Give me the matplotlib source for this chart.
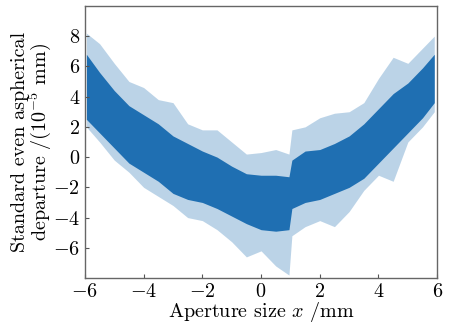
import numpy as np
import matplotlib
matplotlib.use("Agg")
import matplotlib.pyplot as plt

# Envelope of the noisy departure signal (units 1e-5 mm)
x_pos      = [-5.95, -5.5, -5.0, -4.5, -4.0, -3.5, -3.0, -2.5, -2.0, -1.5, -1.0, -0.5, 0.0, 0.5, 0.95,
              1.05, 1.5, 2.0, 2.5, 3.0, 3.5, 4.0, 4.5, 5.0, 5.5, 5.9]
core_top   = [6.8, 5.6, 4.4, 3.4, 2.8, 2.2, 1.4, 0.9, 0.4, 0.0, -0.6, -1.1, -1.2, -1.2, -1.3,
              -0.2, 0.4, 0.5, 0.9, 1.4, 2.2, 3.2, 4.2, 4.9, 5.9, 6.8]
core_bot   = [2.5, 1.6, 0.6, -0.4, -1.0, -1.6, -2.4, -2.8, -3.0, -3.4, -3.9, -4.4, -4.8, -4.9, -4.8,
              -3.4, -3.0, -2.8, -2.4, -2.0, -1.4, -0.4, 0.6, 1.6, 2.6, 3.6]
spike_top  = [8.2, 7.5, 6.2, 5.0, 4.6, 3.8, 3.6, 2.2, 1.8, 1.8, 1.0, 0.2, 0.3, 0.5, 0.2,
              1.8, 2.0, 2.6, 2.9, 3.0, 3.6, 5.2, 6.6, 6.2, 7.2, 8.0]
spike_bot  = [2.0, 1.0, -0.2, -1.0, -2.0, -2.6, -3.2, -4.0, -4.2, -4.8, -5.6, -6.6, -6.2, -7.2, -7.8,
              -5.2, -4.6, -4.2, -4.6, -3.6, -2.2, -1.2, -1.6, 1.0, 2.0, 3.0]

x_ticks = [-6, -4, -2, 0, 2, 4, 6]
y_ticks = [-6, -4, -2, 0, 2, 4, 6, 8]

plt.rcParams['font.family'] = 'serif'
plt.rcParams['font.serif'] = ['cmr10']
plt.rcParams['mathtext.fontset'] = 'cm'
plt.rcParams['axes.formatter.use_mathtext'] = True

fig = plt.figure(figsize=(4.54, 3.26), dpi=100)
ax = fig.add_axes([0.187, 0.147, 0.776, 0.835])

c = '#1f6fb2'
ax.fill_between(x_pos, spike_bot, spike_top, color=c, alpha=0.3, lw=0)
ax.fill_between(x_pos, core_bot, core_top, color=c, alpha=1.0, lw=0)

ax.set_xlim(-6, 6)
ax.set_ylim(-8, 10)
ax.set_xticks(x_ticks)
ax.set_yticks(y_ticks)
ax.set_xticklabels([f'${v}$' for v in x_ticks])
ax.set_yticklabels([f'${v}$' for v in y_ticks])
ax.tick_params(direction='in', length=3, labelsize=14.5, color='#555555', top=False, right=False)
for s in ax.spines.values():
    s.set_color('#666666')
    s.set_linewidth(1.0)

ax.set_xlabel('Aperture size $x$ /mm', fontsize=14.5, labelpad=-1)
ax.set_ylabel('Standard even aspherical\ndeparture /(10$^{-5}$ mm)', fontsize=14.5, labelpad=0, linespacing=0.9)

fig.savefig('out.png', dpi=100)
